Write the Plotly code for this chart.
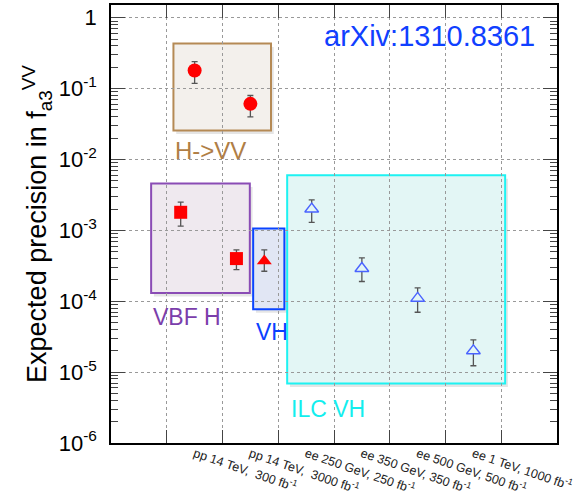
import plotly.graph_objects as go

# Collider scenarios (x-axis categories, centred at half-integer positions)
categories = [
    "pp 14 TeV,  300 fb<sup>-1</sup>",
    "pp 14 TeV,  3000 fb<sup>-1</sup>",
    "ee 250 GeV, 250 fb<sup>-1</sup>",
    "ee 350 GeV, 350 fb<sup>-1</sup>",
    "ee 500 GeV, 500 fb<sup>-1</sup>",
    "ee 1 TeV, 1000 fb<sup>-1</sup>",
]
category_pos = [1.5, 2.5, 3.5, 4.5, 5.5, 6.5]

# H->VV decay measurements
hvv_x = [1.5, 2.5]
hvv_y = [0.18, 0.061]
hvv_hi = [0.24, 0.080]
hvv_lo = [0.119, 0.040]

# VBF production
vbf_x = [1.25, 2.25]
vbf_y = [1.8e-3, 4.0e-4]
vbf_hi = [2.5e-3, 5.3e-4]
vbf_lo = [1.15e-3, 2.8e-4]

# VH production at the LHC
vh_x = [2.75]
vh_y = [3.7e-4]
vh_hi = [5.3e-4]
vh_lo = [2.65e-4]

# VH production at the ILC
ilc_x = [3.6, 4.5, 5.5, 6.5]
ilc_y = [2.0e-3, 2.9e-4, 1.1e-4, 2.0e-5]
ilc_hi = [2.7e-3, 4.1e-4, 1.54e-4, 2.85e-5]
ilc_lo = [1.3e-3, 1.9e-4, 7.0e-5, 1.23e-5]

y_tickvals = [1e-6, 1e-5, 1e-4, 1e-3, 1e-2, 1e-1, 1]
y_ticktext = ["10<sup>-6</sup>", "10<sup>-5</sup>", "10<sup>-4</sup>",
              "10<sup>-3</sup>", "10<sup>-2</sup>", "10<sup>-1</sup>", "1"]

FONT = "Liberation Sans, Arial, Helvetica, sans-serif"
ERR_COLOR = "#555555"


def err(y, hi, lo):
    return dict(type="data", symmetric=False,
                array=[h - v for h, v in zip(hi, y)],
                arrayminus=[v - l for v, l in zip(y, lo)],
                color=ERR_COLOR, thickness=1.3, width=3)


fig = go.Figure()

# Group boxes with their labels (label y given in log10 units)
groups = [
    dict(x0=1.12, x1=2.87, y0=0.0257, y1=0.434, line="#b58a55", fill="#f3f0ec",
         text="H->VV", tcolor="#b07e45", tx=1.11, ty=-1.87, size=24),
    dict(x0=0.72, x1=2.49, y0=1.31e-4, y1=4.6e-3, line="#8a4cb5", fill="#efe9ef",
         text="VBF H", tcolor="#7b3eab", tx=0.71, ty=-4.22, size=23),
    dict(x0=2.55, x1=3.11, y0=7.7e-5, y1=1.06e-3, line="#0a44ff", fill="#e1e6f4",
         text="VH", tcolor="#0a40ff", tx=2.56, ty=-4.43, size=23),
    dict(x0=3.16, x1=7.07, y0=6.9e-6, y1=6.0e-3, line="#1ef2f2", fill="#e3f6f5",
         text="ILC VH", tcolor="#12eeee", tx=3.2, ty=-5.52, size=23),
]

shapes = []
annotations = []
for g in groups:
    # soft drop shadow under each box
    shapes.append(dict(type="rect", xref="x", yref="y", layer="below",
                       x0=g["x0"] + 0.05, x1=g["x1"] + 0.05,
                       y0=g["y0"] * 10 ** -0.05, y1=g["y1"] * 10 ** -0.05,
                       line=dict(width=0), fillcolor="rgba(0,0,0,0.10)"))
    shapes.append(dict(type="rect", xref="x", yref="y", layer="below",
                       x0=g["x0"], x1=g["x1"], y0=g["y0"], y1=g["y1"],
                       line=dict(color=g["line"], width=2), fillcolor=g["fill"]))
    annotations.append(dict(x=g["tx"], y=g["ty"], xref="x", yref="y",
                            text=g["text"], showarrow=False,
                            xanchor="left", yanchor="middle",
                            font=dict(family=FONT, size=g["size"], color=g["tcolor"])))

annotations.append(dict(x=0.715, y=0.93, xref="paper", yref="paper",
                        text="arXiv:1310.8361", showarrow=False,
                        xanchor="center", yanchor="middle",
                        font=dict(family=FONT, size=29, color="#1040ff")))

fig.add_trace(go.Scatter(x=hvv_x, y=hvv_y, mode="markers",
                         error_y=err(hvv_y, hvv_hi, hvv_lo),
                         marker=dict(symbol="circle", size=14, color="#ff0000")))
fig.add_trace(go.Scatter(x=vbf_x, y=vbf_y, mode="markers",
                         error_y=err(vbf_y, vbf_hi, vbf_lo),
                         marker=dict(symbol="square", size=13, color="#ff0000")))
fig.add_trace(go.Scatter(x=vh_x, y=vh_y, mode="markers",
                         error_y=err(vh_y, vh_hi, vh_lo),
                         marker=dict(symbol="triangle-up", size=13, color="#ff0000")))
fig.add_trace(go.Scatter(x=ilc_x, y=ilc_y, mode="markers",
                         error_y=err(ilc_y, ilc_hi, ilc_lo),
                         marker=dict(symbol="triangle-up", size=12, color="#e3f6f5",
                                     line=dict(color="#4a63ff", width=1.4))))

fig.update_layout(
    width=576, height=499,
    margin=dict(l=111, r=19, t=5, b=56),
    paper_bgcolor="white", plot_bgcolor="white",
    showlegend=False,
    shapes=shapes, annotations=annotations,
    font=dict(family=FONT, color="black"),
)

fig.update_xaxes(
    range=[0, 8], automargin=False,
    tickmode="array", tickvals=category_pos, ticktext=categories,
    tickangle=19, ticks="", showgrid=False,
    tickfont=dict(family=FONT, size=12.5, color="#222222"),
    ticklabelstandoff=-3, ticklabeloverflow="allow",
    showline=True, linecolor="black", linewidth=1.5, mirror="ticks",
    zeroline=False,
    minor=dict(tickmode="array", tickvals=[1, 2, 3, 4, 5, 6, 7],
               ticks="inside", ticklen=13, tickcolor="#444444", tickwidth=1,
               showgrid=True, gridcolor="#999999", griddash="dot", gridwidth=1),
)

minor_y = [k * 10 ** e for e in range(-6, 0) for k in range(2, 10)]
fig.update_yaxes(
    type="log", range=[-6, 0.18], automargin=False,
    tickmode="array", tickvals=y_tickvals, ticktext=y_ticktext,
    ticks="inside", ticklen=14, tickcolor="#444444", tickwidth=1,
    tickfont=dict(family=FONT, size=22, color="black"),
    ticklabelstandoff=8,
    showgrid=True, gridcolor="#999999", griddash="dot", gridwidth=1,
    showline=True, linecolor="black", linewidth=1.5, mirror="ticks",
    zeroline=False,
    minor=dict(tickmode="array", tickvals=minor_y, ticks="inside",
               ticklen=7, tickcolor="#444444", tickwidth=1, showgrid=False),
    title=dict(text="Expected precision in f<sub>a3</sub><sup>VV</sup>",
               font=dict(family=FONT, size=27, color="black"), standoff=4),
)

fig.write_html("out.html")
